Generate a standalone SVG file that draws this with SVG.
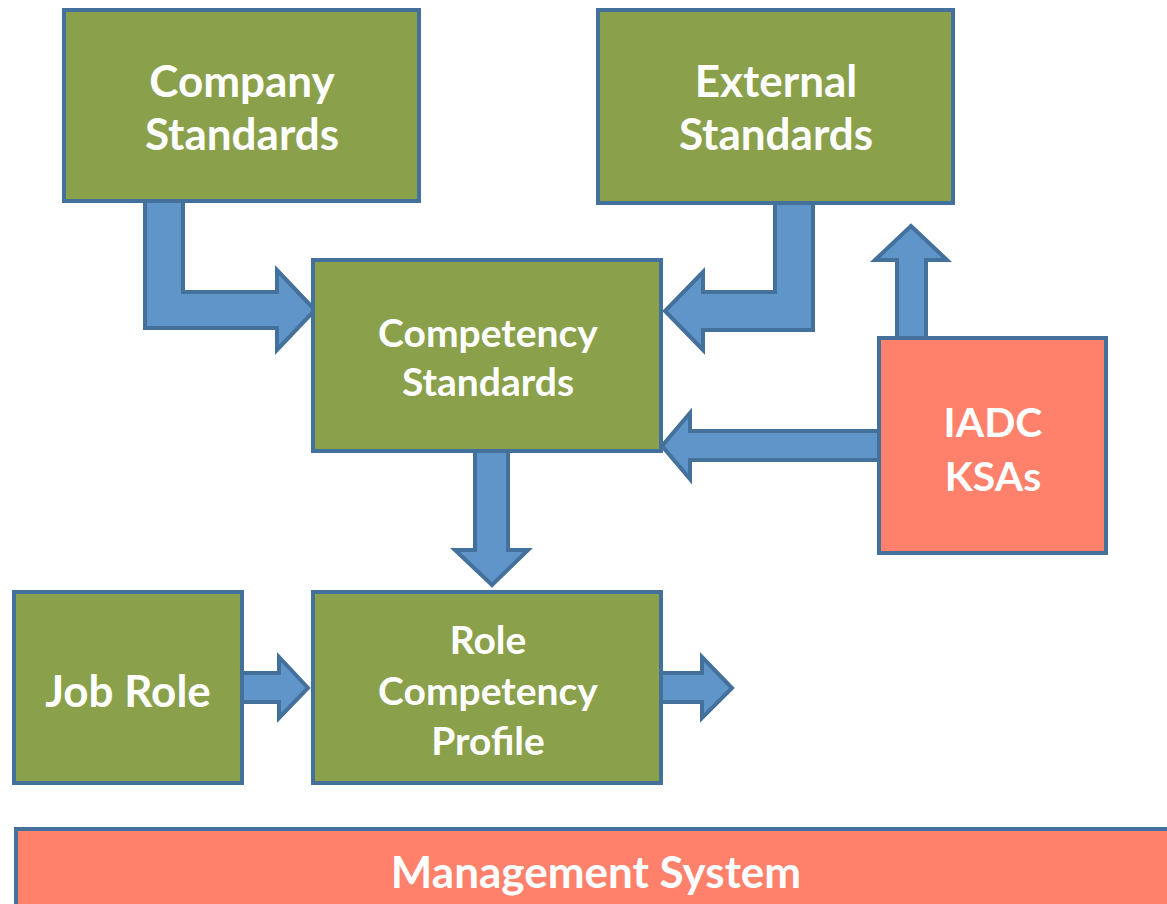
<svg xmlns="http://www.w3.org/2000/svg" width="1167" height="904" viewBox="0 0 1167 904">
<style>
.g{fill:#8aa04b;stroke:#44709c;stroke-width:4}
.r{fill:#ff806b;stroke:#44709c;stroke-width:4}
.a{fill:#5f95c9;stroke:#44709c;stroke-width:4;stroke-linejoin:miter}
.t{font-family:Lato,"Open Sans",sans-serif;font-weight:bold;fill:#fff;text-anchor:middle}
.L{font-size:44px}
.M{font-size:41px}
.S{font-size:39px}
</style>
<rect width="1167" height="904" fill="#fff"/>
<g id="connectors">
<path class="a" d="M145,200 L183,200 L183,292 L277,292 L277,270 L315,310 L277,350 L277,328 L145,328 Z"/>
<path class="a" d="M813,202 L813,330 L703,330 L703,350 L665,311 L703,272 L703,292 L775,292 L775,202 Z"/>
<path class="a" d="M897,338 L897,260 L875,260 L911,226 L947,260 L926,260 L926,338 Z"/>
<path class="a" d="M879,431 L690,431 L690,413 L662,446 L690,479 L690,460 L879,460 Z"/>
<path class="a" d="M475,451 L475,550 L455,550 L492,585 L528,550 L508,550 L508,451 Z"/>
<path class="a" d="M242,673 L279,673 L279,657 L308,688 L279,718 L279,702 L242,702 Z"/>
<path class="a" d="M661,673 L702,673 L702,657 L732,688 L702,718 L702,702 L661,702 Z"/>
</g>
<g id="company">
<rect class="g" x="64" y="10" width="355" height="191"/>
<text class="t L" x="242" y="97">Company</text>
<text class="t L" x="242" y="150">Standards</text>
</g>
<g id="external">
<rect class="g" x="598" y="10" width="355" height="193"/>
<text class="t L" x="776" y="97">External</text>
<text class="t L" x="776" y="150">Standards</text>
</g>
<g id="competency">
<rect class="g" x="313" y="260" width="348" height="191"/>
<text class="t S" x="488" y="347">Competency</text>
<text class="t S" x="488" y="396">Standards</text>
</g>
<g id="iadc">
<rect class="r" x="879" y="338" width="227" height="215"/>
<text class="t M" x="993" y="437">IADC</text>
<text class="t M" x="993" y="491">KSAs</text>
</g>
<g id="jobrole">
<rect class="g" x="14" y="592" width="228" height="191"/>
<text class="t L" x="128" y="707">Job Role</text>
</g>
<g id="profile">
<rect class="g" x="313" y="592" width="348" height="191"/>
<text class="t S" x="488" y="654">Role</text>
<text class="t S" x="488" y="705">Competency</text>
<text class="t S" x="488" y="755">Profile</text>
</g>
<g id="management">
<rect class="r" x="16" y="829" width="1160" height="90"/>
<text class="t L" x="596" y="888">Management System</text>
</g>
</svg>
